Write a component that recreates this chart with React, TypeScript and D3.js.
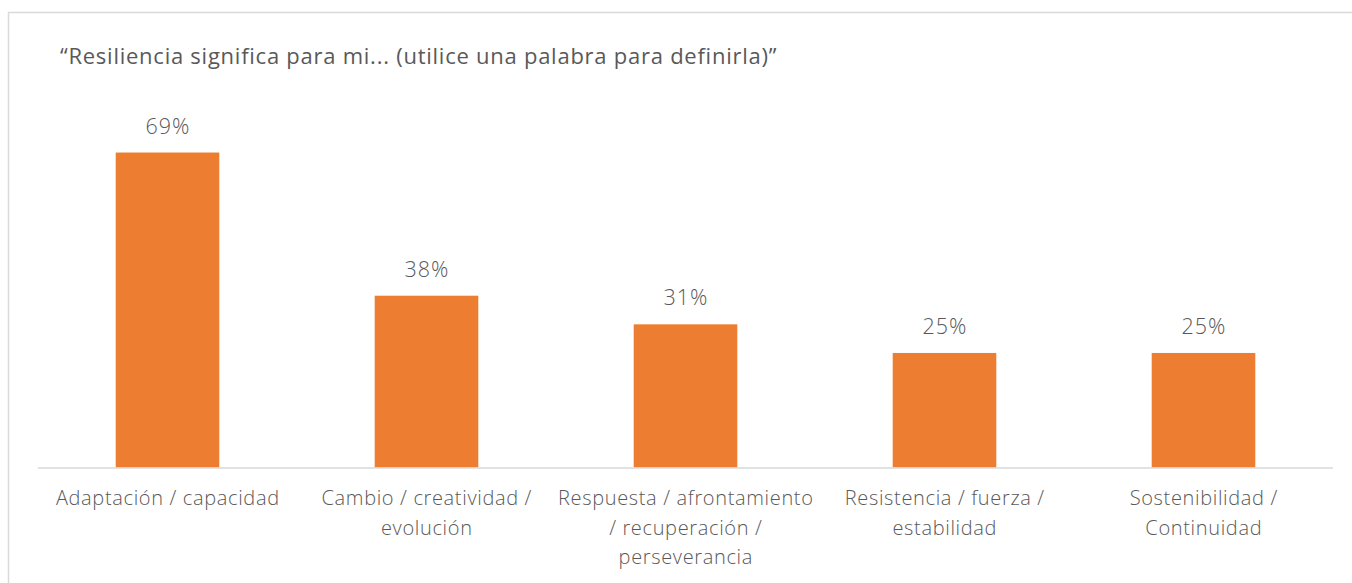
import React from "react";
import * as d3 from "d3";

const title = "“Resiliencia significa para mi... (utilice una palabra para definirla)”";
const categories = [
  "Adaptación / capacidad",
  "Cambio / creatividad /\nevolución",
  "Respuesta / afrontamiento\n/ recuperación /\nperseverancia",
  "Resistencia / fuerza /\nestabilidad",
  "Sostenibilidad /\nContinuidad",
];
const values = [0.6875, 0.375, 0.3125, 0.25, 0.25];

const W = 1352;
const H = 583;
const plotLeft = 38;
const plotRight = 1333;
const baseY = 467.5;
const topY = 101;
const textColor = "#595959";
const barColor = "#ED7D31";
const font = "'Open Sans', 'Liberation Sans', sans-serif";

export default function App() {
  const x = d3
    .scaleBand<number>()
    .domain(d3.range(categories.length))
    .range([plotLeft, plotRight])
    .paddingInner(0.6)
    .paddingOuter(0.3);
  const y = d3.scaleLinear().domain([0, 0.8]).range([baseY, topY]);
  const fmt = d3.format(".0%");

  return (
    <svg
      width={W}
      height={H}
      style={{ position: "absolute", left: 0, top: 0, background: "#fff" }}
      fontFamily={font}
    >
      <rect x={0} y={0} width={W} height={H} fill="#fff" />
      <rect
        x={8.5}
        y={12.5}
        width={W + 20}
        height={H + 20}
        fill="none"
        stroke="#d9d9d9"
        strokeWidth={1.5}
      />
      <text x={60} y={64} fontSize={22} letterSpacing={0.75} fill={textColor}>
        {title}
      </text>
      {values.map((v, i) => {
        const bx = x(i)!;
        const bw = x.bandwidth();
        return (
          <g key={i}>
            <rect x={bx} y={y(v)} width={bw} height={baseY - y(v)} fill={barColor} />
            <text
              x={bx + bw / 2 + 0.5}
              y={y(v) - 19}
              textAnchor="middle"
              fontSize={21.5}
              letterSpacing={1}
              fontWeight={300}
              fill={textColor}
            >
              {fmt(v)}
            </text>
          </g>
        );
      })}
      <line x1={plotLeft} x2={plotRight} y1={baseY + 0.5} y2={baseY + 0.5} stroke="#d9d9d9" strokeWidth={1.5} />
      {categories.map((c, i) => {
        const cx = x(i)! + x.bandwidth() / 2 + 0.3;
        return (
          <text
            key={i}
            textAnchor="middle"
            fontSize={20}
            letterSpacing={0.65}
            fontWeight={300}
            fill={textColor}
          >
            {c.split("\n").map((line, j) => (
              <tspan key={j} x={cx} y={505 + j * 29.5}>
                {line}
              </tspan>
            ))}
          </text>
        );
      })}
    </svg>
  );
}
